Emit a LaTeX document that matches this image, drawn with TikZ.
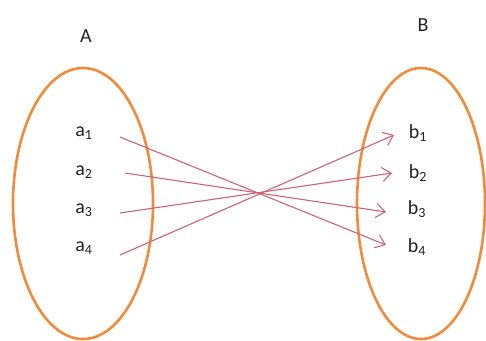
\documentclass[tikz,border=0pt]{standalone}
\usepackage{fontspec}
\setmainfont{Carlito}
\usetikzlibrary{arrows.meta,shapes.geometric}
\definecolor{setorange}{RGB}{242,138,58}
\definecolor{maparrow}{RGB}{204,100,120}
\definecolor{labelgray}{RGB}{35,35,35}
\tikzset{
  setring/.style={draw=setorange, line width=2.6pt, ellipse, inner sep=0pt},
  elemlabel/.style={font=\fontsize{20}{20}\selectfont, text=labelgray, inner sep=0pt},
  setlabel/.style={font=\fontsize{20}{20}\selectfont, text=labelgray, inner sep=0pt},
  mapline/.style={draw=maparrow, line width=1.1pt, -{Straight Barb[length=9pt,width=14pt,line width=1.1pt]}}
}
\newcommand{\sub}[1]{\textsubscript{#1}}
\begin{document}
\begin{tikzpicture}[x=1pt,y=-1pt]
\useasboundingbox (0,0) rectangle (486,340);
\fill[white] (0,0) rectangle (486,340);
% sets
\node[setring, minimum width=140pt, minimum height=271pt] (setA) at (83,203.5) {};
\node[setring, minimum width=128pt, minimum height=271pt] (setB) at (421,203.5) {};
\node[setlabel] (A) at (86,36) {A};
\node[setlabel] (B) at (423,25) {B};
% elements
\node[elemlabel] (a1) at (84,133) {a\sub{1}};
\node[elemlabel] (a2) at (84,172) {a\sub{2}};
\node[elemlabel] (a3) at (84,210) {a\sub{3}};
\node[elemlabel] (a4) at (84,248) {a\sub{4}};
\node[elemlabel] (b1) at (418,133) {b\sub{1}};
\node[elemlabel] (b2) at (418,173) {b\sub{2}};
\node[elemlabel] (b3) at (417,209) {b\sub{3}};
\node[elemlabel] (b4) at (417,247) {b\sub{4}};
% connector ends
\coordinate (s1) at (120,137);
\coordinate (s2) at (125,173);
\coordinate (s3) at (120,213);
\coordinate (s4) at (120,255);
\coordinate (t1) at (394,135);
\coordinate (t2) at (392,173);
\coordinate (t3) at (386,212);
\coordinate (t4) at (386,245);
\draw[mapline] (s1) -- (t4);
\draw[mapline] (s2) -- (t3);
\draw[mapline] (s3) -- (t2);
\draw[mapline] (s4) -- (t1);
\end{tikzpicture}
\end{document}
